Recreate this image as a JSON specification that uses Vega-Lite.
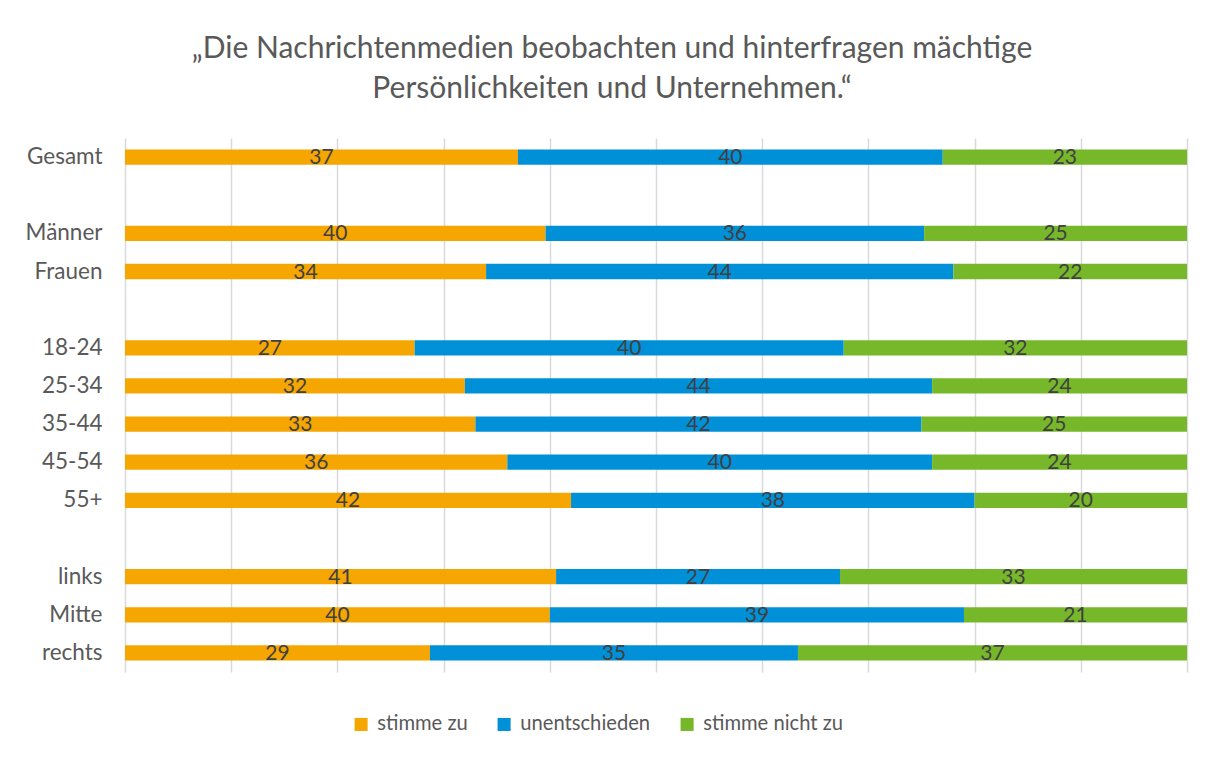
{
  "$schema": "https://vega.github.io/schema/vega-lite/v6.json",
  "width": 1062,
  "height": 534,
  "autosize": {"type": "none"},
  "padding": {"left": 125, "top": 138, "right": 26, "bottom": 86},
  "background": "white",
  "config": {"view": {"stroke": null}},
  "title": {
    "text": ["„Die Nachrichtenmedien beobachten und hinterfragen mächtige", "Persönlichkeiten und Unternehmen.“"],
    "font": "Lato",
    "fontSize": 30,
    "fontWeight": "normal",
    "color": "#595959",
    "lineHeight": 40,
    "anchor": "middle",
    "dx": -44,
    "offset": 34
  },
  "data": {
    "values": [
      {"gruppe": "Gesamt", "antwort": "stimme zu", "rang": 1, "wert": 37},
      {"gruppe": "Gesamt", "antwort": "unentschieden", "rang": 2, "wert": 40},
      {"gruppe": "Gesamt", "antwort": "stimme nicht zu", "rang": 3, "wert": 23},
      {"gruppe": "Männer", "antwort": "stimme zu", "rang": 1, "wert": 40},
      {"gruppe": "Männer", "antwort": "unentschieden", "rang": 2, "wert": 36},
      {"gruppe": "Männer", "antwort": "stimme nicht zu", "rang": 3, "wert": 25},
      {"gruppe": "Frauen", "antwort": "stimme zu", "rang": 1, "wert": 34},
      {"gruppe": "Frauen", "antwort": "unentschieden", "rang": 2, "wert": 44},
      {"gruppe": "Frauen", "antwort": "stimme nicht zu", "rang": 3, "wert": 22},
      {"gruppe": "18-24", "antwort": "stimme zu", "rang": 1, "wert": 27},
      {"gruppe": "18-24", "antwort": "unentschieden", "rang": 2, "wert": 40},
      {"gruppe": "18-24", "antwort": "stimme nicht zu", "rang": 3, "wert": 32},
      {"gruppe": "25-34", "antwort": "stimme zu", "rang": 1, "wert": 32},
      {"gruppe": "25-34", "antwort": "unentschieden", "rang": 2, "wert": 44},
      {"gruppe": "25-34", "antwort": "stimme nicht zu", "rang": 3, "wert": 24},
      {"gruppe": "35-44", "antwort": "stimme zu", "rang": 1, "wert": 33},
      {"gruppe": "35-44", "antwort": "unentschieden", "rang": 2, "wert": 42},
      {"gruppe": "35-44", "antwort": "stimme nicht zu", "rang": 3, "wert": 25},
      {"gruppe": "45-54", "antwort": "stimme zu", "rang": 1, "wert": 36},
      {"gruppe": "45-54", "antwort": "unentschieden", "rang": 2, "wert": 40},
      {"gruppe": "45-54", "antwort": "stimme nicht zu", "rang": 3, "wert": 24},
      {"gruppe": "55+", "antwort": "stimme zu", "rang": 1, "wert": 42},
      {"gruppe": "55+", "antwort": "unentschieden", "rang": 2, "wert": 38},
      {"gruppe": "55+", "antwort": "stimme nicht zu", "rang": 3, "wert": 20},
      {"gruppe": "links", "antwort": "stimme zu", "rang": 1, "wert": 41},
      {"gruppe": "links", "antwort": "unentschieden", "rang": 2, "wert": 27},
      {"gruppe": "links", "antwort": "stimme nicht zu", "rang": 3, "wert": 33},
      {"gruppe": "Mitte", "antwort": "stimme zu", "rang": 1, "wert": 40},
      {"gruppe": "Mitte", "antwort": "unentschieden", "rang": 2, "wert": 39},
      {"gruppe": "Mitte", "antwort": "stimme nicht zu", "rang": 3, "wert": 21},
      {"gruppe": "rechts", "antwort": "stimme zu", "rang": 1, "wert": 29},
      {"gruppe": "rechts", "antwort": "unentschieden", "rang": 2, "wert": 35},
      {"gruppe": "rechts", "antwort": "stimme nicht zu", "rang": 3, "wert": 37}
    ]
  },
  "encoding": {
    "y": {
      "field": "gruppe",
      "type": "nominal",
      "scale": {
        "domain": ["Gesamt", " ", "Männer", "Frauen", "  ", "18-24", "25-34", "35-44", "45-54", "55+", "   ", "links", "Mitte", "rechts"],
        "paddingInner": 0.6,
        "paddingOuter": 0.3
      },
      "axis": {
        "title": null,
        "domain": false,
        "ticks": false,
        "grid": false,
        "labelFont": "Lato",
        "labelFontSize": 22.5,
        "labelColor": "#595959",
        "labelPadding": 23
      }
    },
    "order": {"field": "rang", "type": "quantitative", "sort": "ascending"}
  },
  "layer": [
    {
      "mark": {"type": "bar", "cornerRadius": 0},
      "encoding": {
        "x": {
          "field": "wert",
          "type": "quantitative",
          "stack": "normalize",
          "scale": {"domain": [0, 1], "nice": false},
          "axis": {
            "title": null,
            "labels": false,
            "ticks": false,
            "domain": false,
            "grid": true,
            "gridColor": "#D9D9D9",
            "gridWidth": 1.5,
            "tickCount": 10
          }
        },
        "color": {
          "field": "antwort",
          "type": "nominal",
          "sort": ["stimme zu", "unentschieden", "stimme nicht zu"],
          "scale": {
            "domain": ["stimme zu", "unentschieden", "stimme nicht zu"],
            "range": ["#F6A600", "#0090D8", "#77B82A"]
          },
          "legend": {
            "title": null,
            "orient": "none",
            "direction": "horizontal",
            "legendX": 226,
            "legendY": 576,
            "symbolType": "square",
            "symbolSize": 170,
            "symbolStrokeWidth": 0,
            "symbolOpacity": 1,
            "labelFont": "Lato",
            "labelFontSize": 20.2,
            "labelColor": "#595959",
            "labelOffset": 6,
            "columnPadding": 26
          }
        }
      }
    },
    {
      "mark": {"type": "text", "font": "Lato", "fontSize": 21, "color": "#404040", "baseline": "middle", "dy": 1},
      "encoding": {
        "x": {
          "field": "wert",
          "type": "quantitative",
          "stack": "normalize",
          "bandPosition": 0.5
        },
        "text": {"field": "wert", "type": "quantitative"},
        "detail": {"field": "antwort", "type": "nominal"}
      }
    }
  ]
}
